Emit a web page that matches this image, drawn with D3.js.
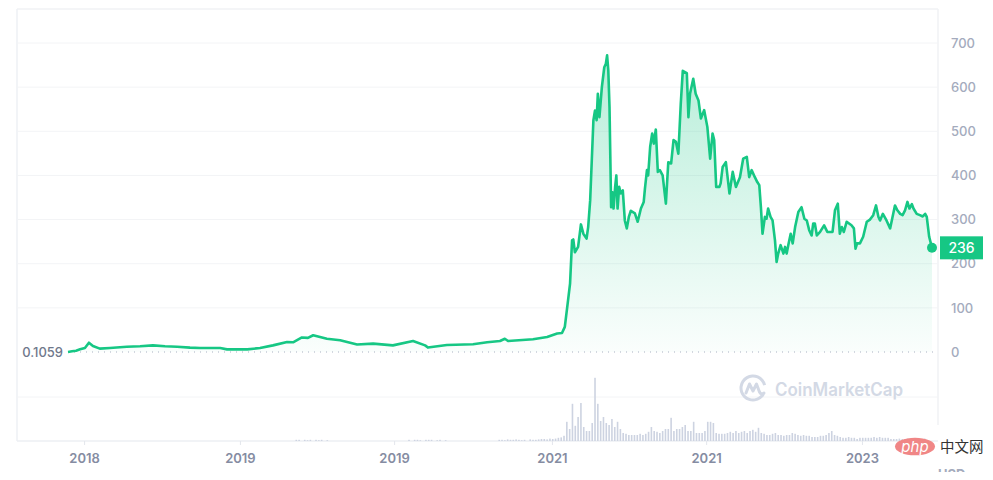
<!DOCTYPE html>
<html><head><meta charset="utf-8">
<script src="https://cdn.jsdelivr.net/npm/d3@7"></script>
<style>
html,body{margin:0;padding:0;background:#fff;}
svg{display:block;font-family:Inter,"Noto Sans",sans-serif;}
</style>
</head><body>
<svg id="chart" width="993" height="480"></svg>
<script>
// ---------- DATA ----------
const startDate = "2017-07-25";
const totalDays = 2146;
const days = [0,10,20,30,42,52,62,79,104,146,179,211,241,271,303,328,378,395,445,477,509,544,559,581,596,609,643,676,718,758,807,857,887,894,941,1006,1041,1073,1085,1093,1155,1190,1215,1227,1234,1242,1247,1252,1255,1259,1267,1274,1280,1288,1292,1297,1305,1309,1313,1316,1320,1326,1332,1336,1339,1342,1345,1347,1349,1352,1355,1359,1362,1365,1369,1373,1378,1383,1388,1393,1398,1408,1415,1423,1430,1433,1438,1441,1446,1451,1455,1460,1465,1470,1477,1485,1491,1498,1504,1510,1516,1522,1527,1537,1541,1545,1553,1559,1566,1572,1580,1588,1595,1601,1605,1610,1618,1621,1626,1634,1643,1651,1659,1669,1677,1686,1692,1698,1706,1712,1717,1721,1725,1731,1735,1739,1745,1750,1756,1760,1764,1770,1777,1781,1785,1789,1795,1800,1806,1814,1822,1829,1835,1841,1847,1851,1855,1860,1868,1878,1886,1899,1905,1912,1917,1922,1927,1934,1946,1952,1956,1960,1967,1975,1984,1992,2000,2007,2013,2017,2024,2033,2042,2048,2054,2060,2067,2073,2079,2085,2090,2096,2100,2108,2116,2123,2129,2133,2139,2146];
const prices = [0.1059,1.5,3,6,9,21,13.6,7.7,9,12,13,15,13,12,10,9,9,6,6,9,15,22.6,22,33,32,38,30,26.5,17,19,15,25,15,10,16,17.5,22,25,30,25,29,34,42,43,57,117,155,253,255,226,238,289,268,257,283,344,525,547,525,585,532,600,645,653,672,638,555,442,328,362,325,374,400,325,374,359,366,298,280,306,320,314,295,325,340,370,412,400,465,495,472,504,408,412,400,336,430,427,480,476,449,563,637,632,532,585,619,585,570,529,548,510,438,495,480,374,374,382,419,430,359,408,374,396,438,442,396,412,396,385,378,328,268,306,302,325,306,298,253,204,223,242,223,238,223,242,268,246,283,317,328,302,298,276,264,291,291,264,272,287,272,272,321,336,268,283,272,295,287,280,234,246,246,261,295,300,310,332,306,298,313,298,280,306,332,321,313,310,321,340,325,335,325,313,310,307,313,306,261,236];
const volStartWeek = 80;
const volumes = [0,0.3,0.3,0,0.3,0.2,0.3,0,0.3,0.2,0.3,0,0.2,
  0,0,0,0,0,0,0,0,0,0,0,0,0,0,0,0,0,0,0,0,0,0,0,0,0,0,0,0,
  0.3,0,0.3,0.3,0.2,0,0.3,0.3,0.3,0,0.2,0.3,0,0.2,
  0,0,0,0,0,0,0,0,0,0,0,0,0,0,0,0,0,0,
  0.3,0.3,0.2,0.4,0.3,0.3,0.4,0.3,0.2,0.3,0,0.4,0.3,0.3,0.4,0.5,
  0.5,0.4,0.6,0.5,0.6,0.8,0.9,
  1.3,4.8,3,9.3,3.8,6,9.5,3.5,2.5,2.5,4.5,15.8,9.3,5,6,4.5,4,5.5,3.5,4.8,3,2,1.8,1.5,1.5,1.5,1.5,1.8,1.5,1.8,2.3,3.5,2.5,2.3,2,2.5,3,3,5.8,2.5,3,3,3.5,4,2.5,2.5,4.8,2,2,2,2.5,4.8,4.8,4.5,2,1.8,1.8,1.8,2,2.3,2,2.5,2,2.3,2.5,2,2.5,2.8,2.3,3.3,2,1.8,1.5,1.5,1.8,2,1.5,1.5,1.3,1.5,1.5,2,1.8,1.5,1.3,1.5,1.3,1.3,1,1,1,1.3,1.3,1.5,2,2.5,1.5,1.3,1,0.8,0.8,1,0.8,0.8,0.5,
  0.8,0.8,0.8,0.8,0.8,1,0.8,1,0.8,0.8,0.8,0.5,
  0.5,0.5,0.6,0.5,0.5,0.6,0.5,0.5,0.6,0.5,0.5,0.6];
const priceTicks = [0,100,200,300,400,500,600,700];
const xTickDays = [40,427,810,1202,1585,1972];
const xTickLabels = ["2018","2019","2019","2021","2021","2023"];
const firstLabel = "0.1059";
const lastPrice = 236;
const watermark = "CoinMarketCap";

// ---------- SETUP ----------
const svg = d3.select("#chart");
const GREEN = "#16c784";
const start = d3.isoParse(startDate + "T00:00:00Z");
const dayMs = 86400000;
const toDate = d => new Date(start.getTime() + d * dayMs);

const frame = {left:17, right:938, top:9, bottom:441};
const x = d3.scaleUtc().domain([start, toDate(totalDays)]).range([68, 932]);
const y = d3.scaleLinear().domain([0, 700]).range([352, 43]);
const yv = d3.scaleLinear().domain([0, 16]).range([441, 377]);

const pts = days.map((d, i) => ({date: toDate(d), v: prices[i]}));

// gradient
const defs = svg.append("defs");
const grad = defs.append("linearGradient").attr("id","areaGrad")
  .attr("gradientUnits","userSpaceOnUse").attr("x1",0).attr("x2",0)
  .attr("y1", y(700)).attr("y2", y(0));
grad.append("stop").attr("offset","0%").attr("stop-color",GREEN).attr("stop-opacity",0.32);
grad.append("stop").attr("offset","100%").attr("stop-color",GREEN).attr("stop-opacity",0.02);
defs.append("clipPath").attr("id","usdClip").append("rect")
  .attr("x",930).attr("y",460).attr("width",60).attr("height",12);

// frame
const g = svg.append("g");
g.append("line").attr("x1",frame.left).attr("x2",frame.right).attr("y1",frame.top).attr("y2",frame.top)
  .attr("stroke","#f0f2f5").attr("stroke-width",1.5);
g.append("line").attr("x1",frame.left).attr("x2",frame.left).attr("y1",frame.top).attr("y2",frame.bottom)
  .attr("stroke","#eef0f4").attr("stroke-width",1.5);
g.append("line").attr("x1",frame.right).attr("x2",frame.right).attr("y1",frame.top).attr("y2",425)
  .attr("stroke","#f0f2f5").attr("stroke-width",1.5);

// price gridlines
g.selectAll("line.grid").data(priceTicks.filter(t => t > 0)).join("line")
  .attr("class","grid")
  .attr("x1",frame.left).attr("x2",frame.right)
  .attr("y1",d => y(d)).attr("y2",d => y(d))
  .attr("stroke","#f3f4f6").attr("stroke-width",1);
// volume gridline
g.append("line").attr("x1",frame.left).attr("x2",frame.right)
  .attr("y1",yv(11)).attr("y2",yv(11)).attr("stroke","#f3f4f6");

// watermark
const wm = svg.append("g").attr("transform","translate(753,388)");
wm.append("path")
  .attr("d", d3.arc()({innerRadius:10.5, outerRadius:13.5, startAngle:0.66*Math.PI, endAngle:2.42*Math.PI}))
  .attr("fill","#d3d9e5");
wm.append("path").attr("d","M-7,5 L-3.5,-4 L0,3 L3.5,-4 L6.5,4 Q8,7 11,5")
  .attr("fill","none").attr("stroke","#d3d9e5").attr("stroke-width",3)
  .attr("stroke-linejoin","round").attr("stroke-linecap","round");
svg.append("text").attr("x",775).attr("y",395.5).text(watermark)
  .attr("font-size",18).attr("font-weight",600).attr("fill","#d3d9e5")
  .attr("textLength",128).attr("lengthAdjust","spacingAndGlyphs");

// volume bars
const vBars = volumes.map((v, i) => ({date: toDate((volStartWeek + i) * 7), v}));
svg.append("g").selectAll("rect").data(vBars.filter(d => d.v > 0)).join("rect")
  .attr("x", d => x(d.date) - 0.8).attr("width", 1.6)
  .attr("y", d => yv(d.v)).attr("height", d => yv(0) - yv(d.v))
  .attr("fill","#cdd3e1");

// bottom axis line + ticks
g.append("line").attr("x1",frame.left).attr("x2",frame.right).attr("y1",frame.bottom).attr("y2",frame.bottom)
  .attr("stroke","#eceff3").attr("stroke-width",1.5);
const xAxis = svg.append("g").attr("transform",`translate(0,${frame.bottom})`)
  .call(d3.axisBottom(x).tickValues(xTickDays.map(toDate))
    .tickFormat((d, i) => xTickLabels[i]).tickSize(4).tickPadding(9));
xAxis.select(".domain").remove();
xAxis.selectAll(".tick line").attr("stroke","#e3e6ec");
xAxis.selectAll(".tick text").attr("font-family","Inter,'Noto Sans',sans-serif")
  .attr("font-size",13).attr("font-weight",600).attr("fill","#858ca2");

// area + line
const area = d3.area().x(d => x(d.date)).y0(y(0)).y1(d => y(d.v)).curve(d3.curveLinear);
svg.append("path").datum(pts).attr("d",area).attr("fill","url(#areaGrad)");

// dotted zero baseline
svg.append("line").attr("x1",68).attr("x2",frame.right).attr("y1",y(0)).attr("y2",y(0))
  .attr("stroke","#a9b1c2").attr("stroke-width",1).attr("stroke-dasharray","1,5");

const line = d3.line().x(d => x(d.date)).y(d => y(d.v)).curve(d3.curveLinear);
svg.append("path").datum(pts).attr("d",line).attr("fill","none")
  .attr("stroke",GREEN).attr("stroke-width",2.6).attr("stroke-linejoin","round");

// y axis labels (right)
const yAxis = svg.append("g").attr("transform","translate(938,0)")
  .call(d3.axisRight(y).tickValues(priceTicks).tickSize(0).tickPadding(13));
yAxis.select(".domain").remove();
yAxis.selectAll(".tick text").attr("font-family","Inter,'Noto Sans',sans-serif")
  .attr("font-size",13).attr("font-weight",500).attr("fill","#a4abbd");

// first value label
svg.append("text").attr("x",63).attr("y",y(0)).attr("dy","0.35em").attr("text-anchor","end")
  .text(firstLabel).attr("font-size",13).attr("font-weight",500).attr("fill","#6f788b");

// last price marker + label
const last = pts[pts.length - 1];
svg.append("circle").attr("cx",x(last.date)).attr("cy",y(last.v)).attr("r",5).attr("fill",GREEN);
svg.append("rect").attr("x",940).attr("y",y(lastPrice)-11.5).attr("width",43).attr("height",23).attr("fill",GREEN);
svg.append("text").attr("x",961.5).attr("y",y(lastPrice)).attr("dy","0.36em").attr("text-anchor","middle")
  .text(lastPrice).attr("font-size",14).attr("font-weight",500).attr("fill","#fff");

// overlay marks (php 中文网) and cut USD label
svg.append("text").attr("x",938).attr("y",479).text("USD").attr("clip-path","url(#usdClip)")
  .attr("font-size",13).attr("font-weight",700).attr("fill","#a4abbd");
svg.append("ellipse").attr("cx",915).attr("cy",446.5).attr("rx",20).attr("ry",8.8).attr("fill","#f08686");
svg.append("text").attr("x",915).attr("y",447).attr("dy","0.32em").attr("text-anchor","middle")
  .text("php").attr("font-size",15).attr("font-style","italic").attr("fill","#fff");
svg.append("text").attr("x",940).attr("y",447).attr("dy","0.36em")
  .text("中文网").attr("font-family","'Noto Sans CJK SC',sans-serif").attr("font-size",14.5).attr("fill","#333");
</script>
</body></html>
